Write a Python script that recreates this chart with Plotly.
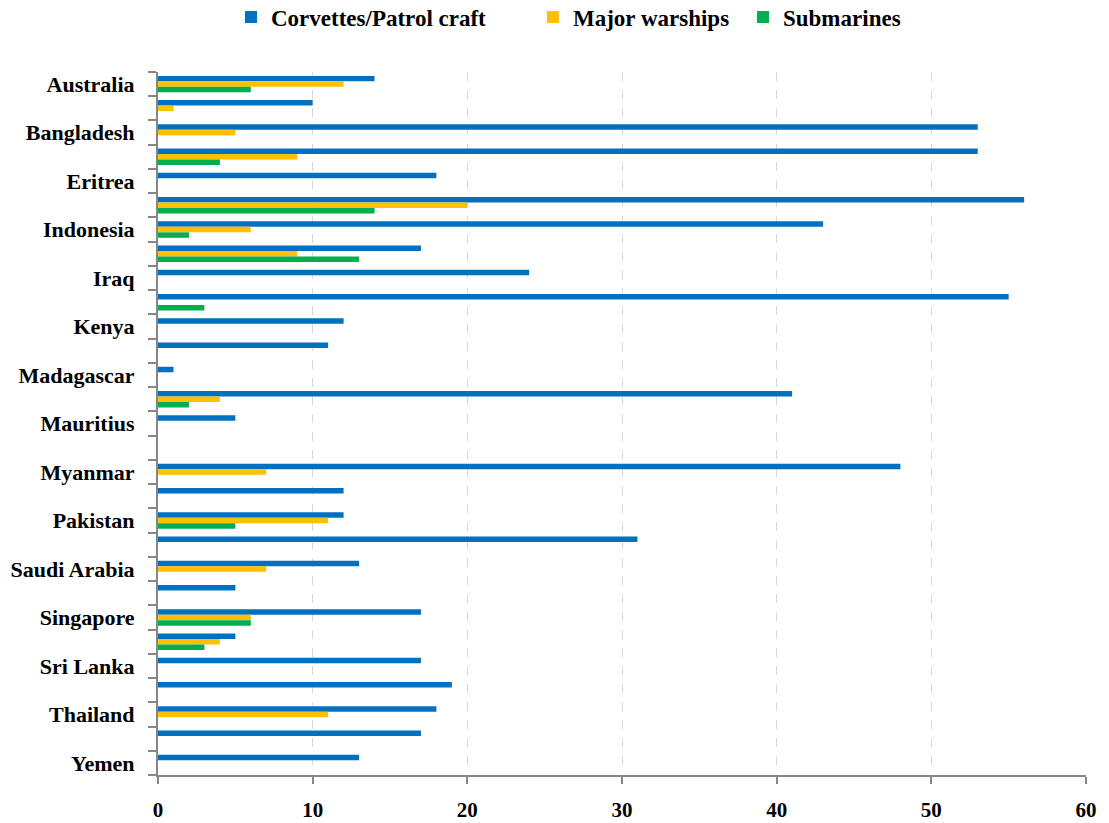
import plotly.graph_objects as go

countries = ["Australia", "Bahrain", "Bangladesh", "Egypt", "Eritrea", "India", "Indonesia",
             "Iran", "Iraq", "Israel", "Kenya", "Kuwait", "Madagascar", "Malaysia", "Mauritius",
             "Mozambique", "Myanmar", "Oman", "Pakistan", "Qatar", "Saudi Arabia", "Seychelles",
             "Singapore", "South Africa", "Sri Lanka", "Tanzania", "Thailand", "UAE", "Yemen"]
corvettes = [14, 10, 53, 53, 18, 56, 43, 17, 24, 55, 12, 11, 1, 41, 5, 0, 48, 12, 12, 31, 13, 5,
             17, 5, 17, 19, 18, 17, 13]
major_warships = [12, 1, 5, 9, 0, 20, 6, 9, 0, 0, 0, 0, 0, 4, 0, 0, 7, 0, 11, 0, 7, 0,
                  6, 4, 0, 0, 11, 0, 0]
submarines = [6, 0, 0, 4, 0, 14, 2, 13, 0, 3, 0, 0, 0, 2, 0, 0, 0, 0, 5, 0, 0, 0,
              6, 3, 0, 0, 0, 0, 0]
# only every other category label is displayed in the original
tick_labels = [c if i % 2 == 0 else "" for i, c in enumerate(countries)]
x_ticks = [0, 10, 20, 30, 40, 50, 60]
series_names = ["Corvettes/Patrol craft", "Major warships", "Submarines"]
series_colors = ["#0070C0", "#FFC000", "#00B050"]

FONT = "Liberation Serif"
AXIS_COLOR = "#868686"
W, H = 1109, 823

fig = go.Figure()
legend_ids = ["legend", "legend2", "legend3"]
legend_left_px = [231, 533, 743]
for name, vals, col, lid in zip(series_names, [corvettes, major_warships, submarines],
                                series_colors, legend_ids):
    fig.add_trace(go.Bar(y=countries, x=vals, name=name, orientation="h", legend=lid,
                         marker=dict(color=col, line=dict(width=0))))

legend_font = dict(family=FONT, size=23, weight="bold", color="black")
legend_layout = {}
for lid, px in zip(legend_ids, legend_left_px):
    legend_layout[lid] = dict(orientation="h", xref="container", yref="container",
                              x=px / W, xanchor="left", y=1 - 17 / H, yanchor="middle",
                              font=legend_font, itemwidth=30, bgcolor="rgba(0,0,0,0)")

fig.update_layout(
    width=W, height=H,
    margin=dict(l=158, r=23, t=72, b=48),
    barmode="group", bargap=0.32, bargroupgap=0,
    plot_bgcolor="white", paper_bgcolor="white",
    font=dict(family=FONT, color="black"),
    showlegend=True,
    **legend_layout,
)
fig.update_xaxes(range=[0, 60], tickmode="array", tickvals=x_ticks, automargin=False,
                 showgrid=True, gridcolor="#D9D9D9", griddash="dash", gridwidth=1,
                 zeroline=False, showline=True, linecolor=AXIS_COLOR, linewidth=2,
                 ticks="outside", ticklen=7, tickcolor=AXIS_COLOR, tickwidth=2,
                 ticklabelstandoff=8,
                 tickfont=dict(family=FONT, size=21, weight="bold", color="black"))
fig.update_yaxes(type="category", categoryorder="array", categoryarray=countries,
                 autorange="reversed", tickmode="array", tickvals=countries,
                 ticktext=tick_labels, tickson="boundaries", automargin=False,
                 showgrid=False, zeroline=False, showline=True, linecolor=AXIS_COLOR,
                 linewidth=2, ticks="outside", ticklen=8, tickcolor=AXIS_COLOR, tickwidth=2,
                 ticklabelstandoff=17,
                 tickfont=dict(family=FONT, size=22, weight="bold", color="black"))

fig.write_html("out.html")
